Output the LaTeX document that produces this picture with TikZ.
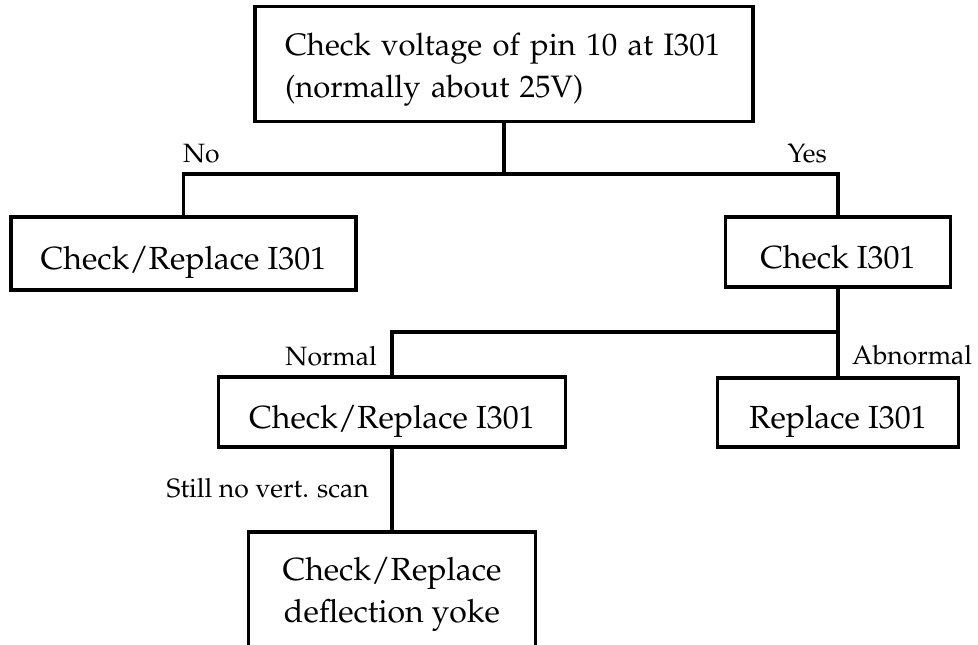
\documentclass[tikz,border=0pt]{standalone}
\usepackage[T1]{fontenc}
\renewcommand{\rmdefault}{ppl}
\newcommand\mainfs{\fontsize{32}{42}\selectfont}
\newcommand\topfs{\fontsize{31}{42}\selectfont}
\newcommand\lblfs{\fontsize{26.5}{30}\selectfont}
\tikzset{
  box/.style={draw, line width=3.1pt, font=\mainfs, inner sep=0pt},
  onebox/.style={box, text height=38pt, text depth=6pt},
  lbl/.style={font=\lblfs, inner sep=0pt},
  conn/.style={line width=3.1pt},
}
\hbadness=10000 \hfuzz=100pt
\begin{document}
\begin{tikzpicture}[x=1pt,y=-1pt]
\useasboundingbox (0,0) rectangle (978,645);
\node[box, font=\topfs, inner xsep=30pt, text width=438pt, align=left,
      minimum width=498pt, minimum height=115pt] (top) at (504,64)
  {\rule{0pt}{33pt}\mbox{Check voltage of pin 10 at I301}\\\mbox{(normally about 25V)}};
\node[onebox, minimum width=345pt, minimum height=73pt] (left) at (183.5,253.5) {Check/Replace I301};
\node[onebox, minimum width=225pt, minimum height=70pt] (check) at (838,252) {Check I301};
\node[onebox, minimum width=347pt, minimum height=70pt] (mid) at (392,412) {Check/Replace I301};
\node[onebox, minimum width=241pt, minimum height=69pt] (repl) at (838,412.5) {Replace I301};
\node[box, minimum width=287pt, minimum height=124pt, align=center] (bot) at (392,594)
  {Check/Replace\\deflection yoke};
\coordinate (j1) at (504,174);
\coordinate (j2) at (838,332);
\draw[conn] (top.south) -- (j1);
\draw[conn] (left.north) |- (j1) -| (check.north);
\draw[conn] (check.south) -- (repl.north);
\draw[conn] (mid.north) |- (j2);
\draw[conn] (mid.south) -- (bot.north);
\node[lbl, anchor=base west] (lno) at (183,162) {No};
\node[lbl, anchor=base east] (lyes) at (827,162) {Yes};
\node[lbl, anchor=base east] (lnorm) at (377,365) {Normal};
\node[lbl, anchor=base west] (labn) at (852,364) {Abnormal};
\node[lbl, anchor=base east] (lstill) at (369,497) {Still no vert. scan};
\end{tikzpicture}
\end{document}
